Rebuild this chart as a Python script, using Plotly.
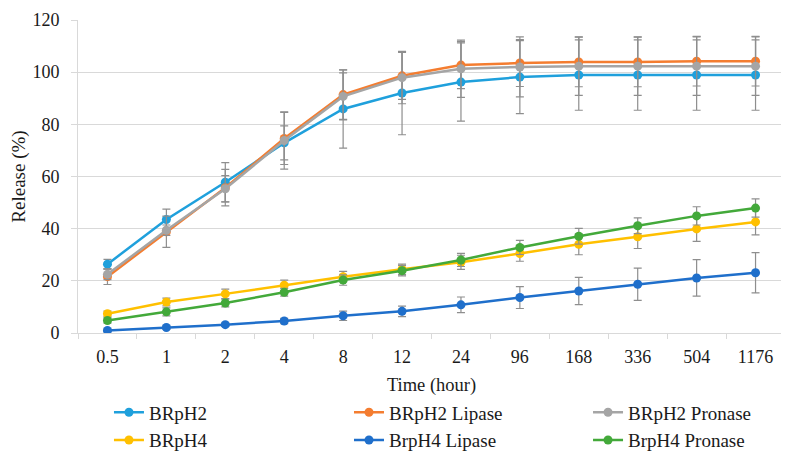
import plotly.graph_objects as go

time_labels = ["0.5", "1", "2", "4", "8", "12", "24", "96", "168", "336", "504", "1176"]

brph2 = [26.4, 43.5, 57.8, 72.9, 85.9, 92.0, 96.2, 98.1, 98.9, 98.9, 98.9, 98.9]
brph2_err = [1.8, 4, 7.5, 6.5, 15, 16, 15, 14, 13.5, 13.5, 13.5, 13.5]

brph2_lipase = [21.6, 38.8, 55.7, 74.6, 91.4, 98.6, 102.7, 103.5, 103.9, 103.9, 104.2, 104.2]
brph2_lipase_err = [3, 6, 7, 10, 9.5, 9, 9, 9, 9.5, 9.5, 9.5, 9.5]

brph2_pronase = [22.5, 39.4, 55.3, 73.8, 90.7, 97.9, 101.3, 102.0, 102.3, 102.3, 102.3, 102.3]
brph2_pronase_err = [2, 2, 5, 11, 9, 10, 11, 11.5, 11.2, 11.2, 11.2, 11.2]

brph4 = [7.4, 11.9, 15.0, 18.3, 21.6, 24.4, 27.1, 30.5, 34.0, 36.9, 39.9, 42.6]
brph4_err = [1, 1.5, 1.8, 2, 2, 2, 2.7, 3, 4, 4.5, 4.8, 5]

brph4_lipase = [1.0, 2.1, 3.2, 4.6, 6.6, 8.3, 10.8, 13.6, 16.1, 18.7, 21.1, 23.1]
brph4_lipase_err = [0.5, 0.6, 0.7, 1, 1.8, 2, 3, 4.2, 5.2, 6.2, 7, 7.7]

brph4_pronase = [4.8, 8.1, 11.5, 15.6, 20.3, 23.9, 28.0, 32.8, 37.1, 41.1, 44.9, 47.9]
brph4_pronase_err = [1, 1.5, 1.5, 1.5, 2, 2, 2.5, 2.7, 3, 3, 3.5, 3.5]

# (name, values, errors, colour, legend column)
series = [
    ("BRpH2", brph2, brph2_err, "#1FA0DC", "legend"),
    ("BRpH2 Lipase", brph2_lipase, brph2_lipase_err, "#F47D30", "legend2"),
    ("BRpH2 Pronase", brph2_pronase, brph2_pronase_err, "#A5A5A5", "legend3"),
    ("BRpH4", brph4, brph4_err, "#FFC000", "legend"),
    ("BrpH4 Lipase", brph4_lipase, brph4_lipase_err, "#1F6FCB", "legend2"),
    ("BrpH4 Pronase", brph4_pronase, brph4_pronase_err, "#43A93A", "legend3"),
]

TXT = "#1a1a1a"
FONT = "Liberation Serif, Times New Roman, serif"

fig = go.Figure()
for name, vals, errs, color, leg in series:
    fig.add_trace(go.Scatter(
        x=time_labels, y=vals, name=name, mode="lines+markers",
        legend=leg,
        line=dict(color=color, width=2.5),
        marker=dict(color=color, size=9, symbol="circle"),
        error_y=dict(type="data", array=errs, visible=True,
                     color="#8E8E8E", thickness=1.2, width=4),
    ))

leg_common = dict(orientation="v", xanchor="left", y=-0.193, yanchor="top",
                  font=dict(family=FONT, size=19, color=TXT),
                  tracegroupgap=0, itemsizing="trace", bgcolor="rgba(0,0,0,0)")

fig.update_layout(
    width=781, height=451,
    margin=dict(l=70, r=4, t=12, b=126, autoexpand=False),
    paper_bgcolor="white", plot_bgcolor="white",
    font=dict(family=FONT, size=18, color=TXT),
    showlegend=True,
    legend=dict(x=0.0438, **leg_common),
    legend2=dict(x=0.3833, **leg_common),
    legend3=dict(x=0.7214, **leg_common),
    xaxis=dict(
        type="category", categoryorder="array", categoryarray=time_labels,
        range=[-0.5, len(time_labels) - 0.5], automargin=False,
        showgrid=False, showline=True, linecolor="#D9D9D9", linewidth=1,
        ticks="outside", tickson="boundaries", ticklen=5, tickcolor="#D9D9D9",
        ticklabelstandoff=7,
        tickfont=dict(family=FONT, size=18, color=TXT),
        title=dict(text="Time (hour)", font=dict(family=FONT, size=18.5, color=TXT), standoff=12),
    ),
    yaxis=dict(
        range=[0, 120], dtick=20, showgrid=True, gridcolor="#D9D9D9", gridwidth=1,
        automargin=False,
        showline=True, linecolor="#D9D9D9", linewidth=1,
        ticks="outside", ticklen=6, tickcolor="#D9D9D9",
        ticklabelstandoff=8,
        zeroline=False,
        tickfont=dict(family=FONT, size=18, color=TXT),
        title=dict(text="Release (%)", font=dict(family=FONT, size=19, color=TXT), standoff=8),
    ),
)

fig.write_html("out.html")
